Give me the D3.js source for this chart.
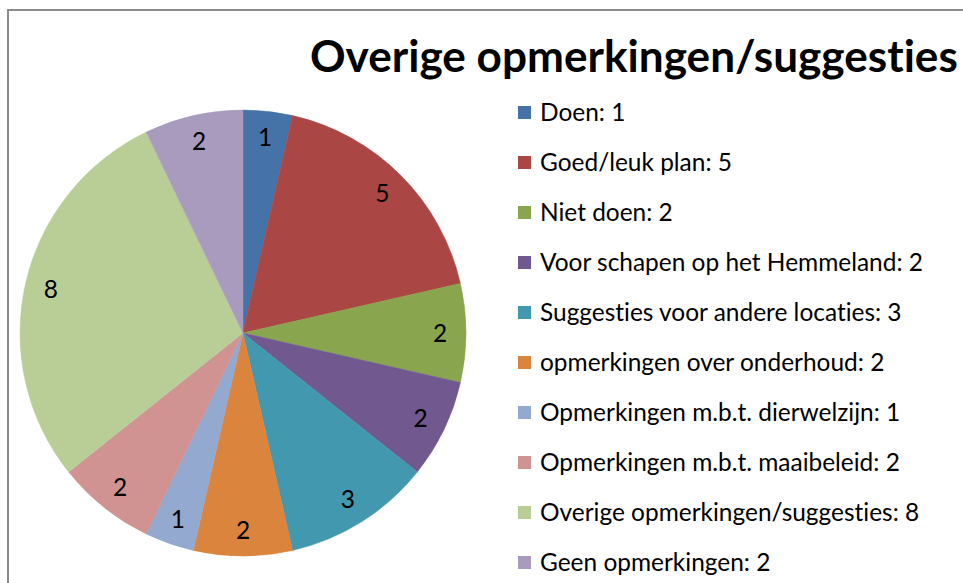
<!DOCTYPE html>
<html>
<head>
<meta charset="utf-8">
<script src="https://d3js.org/d3.v7.min.js"></script>
<style>
  body { margin: 0; background: #fff; }
  svg { display: block; }
  text { font-variant-ligatures: none; font-feature-settings: "liga" 0, "clig" 0; }
</style>
</head>
<body>
<script>
// data
const categories = [
  "Doen",
  "Goed/leuk plan",
  "Niet doen",
  "Voor schapen op het Hemmeland",
  "Suggesties voor andere locaties",
  "opmerkingen over onderhoud",
  "Opmerkingen m.b.t. dierwelzijn",
  "Opmerkingen m.b.t. maaibeleid",
  "Overige opmerkingen/suggesties",
  "Geen opmerkingen"
];
const values = [1, 5, 2, 2, 3, 2, 1, 2, 8, 2];
const colors = [
  "#4572a7", "#aa4643", "#89a54e", "#71588f", "#4198af",
  "#db843d", "#93a9cf", "#d19392", "#b9cd96", "#a99bbd"
];
const title = "Overige opmerkingen/suggesties";

const data = categories.map((c, i) => ({ name: c, value: values[i], color: colors[i] }));

// layout
const width = 963;
const height = 583;
const cx = 243, cy = 333, radius = 223;
const font = "Lato, 'Open Sans', sans-serif";

const svg = d3.select("body").append("svg")
  .attr("width", width)
  .attr("height", height);

// chart frame
svg.append("rect")
  .attr("x", 8).attr("y", 10)
  .attr("width", 980).attr("height", 600)
  .attr("fill", "none")
  .attr("stroke", "#8a8a8a")
  .attr("stroke-width", 2);

// title
const titleText = svg.append("text")
  .attr("x", 310).attr("y", 72)
  .attr("font-family", font)
  .attr("font-weight", "bold")
  .attr("font-size", 40)
  .attr("fill", "#000")
  .text(title);
const tw = titleText.node().getComputedTextLength();
titleText.attr("font-size", 40 * 648 / tw);

// pie
const pie = d3.pie().sort(null).value(d => d.value);
const arc = d3.arc().innerRadius(0).outerRadius(radius);
const labelArc = d3.arc().innerRadius(197).outerRadius(197);

const g = svg.append("g").attr("transform", `translate(${cx},${cy})`);
const arcs = pie(data);

g.selectAll("path")
  .data(arcs)
  .enter()
  .append("path")
  .attr("d", arc)
  .attr("fill", d => d.data.color)
  .attr("stroke", d => d.data.color)
  .attr("stroke-width", 0.5);

g.selectAll("text")
  .data(arcs)
  .enter()
  .append("text")
  .attr("transform", d => `translate(${labelArc.centroid(d)})`)
  .attr("text-anchor", "middle")
  .attr("dy", "0.35em")
  .attr("font-family", font)
  .attr("font-size", 21)
  .attr("fill", "#000")
  .text(d => d.data.value);

// legend
const legend = svg.append("g").attr("transform", "translate(518,113)");
const rowH = 50;

const items = legend.selectAll("g")
  .data(data)
  .enter()
  .append("g")
  .attr("transform", (d, i) => `translate(0,${i * rowH})`);

items.append("rect")
  .attr("x", 0).attr("y", -7)
  .attr("width", 13).attr("height", 13)
  .attr("fill", d => d.color);

const labels = items.append("text")
  .attr("x", 22)
  .attr("y", 8)
  .attr("font-family", font)
  .attr("font-size", 21)
  .attr("fill", "#000")
  .text(d => `${d.name}: ${d.value}`);

// fit legend font to the longest label width
const longest = d3.max(labels.nodes(), n => n.getComputedTextLength());
const fs = 21 * 383 / longest;
labels.attr("font-size", fs);
g.selectAll("text").attr("font-size", fs);
</script>
</body>
</html>
